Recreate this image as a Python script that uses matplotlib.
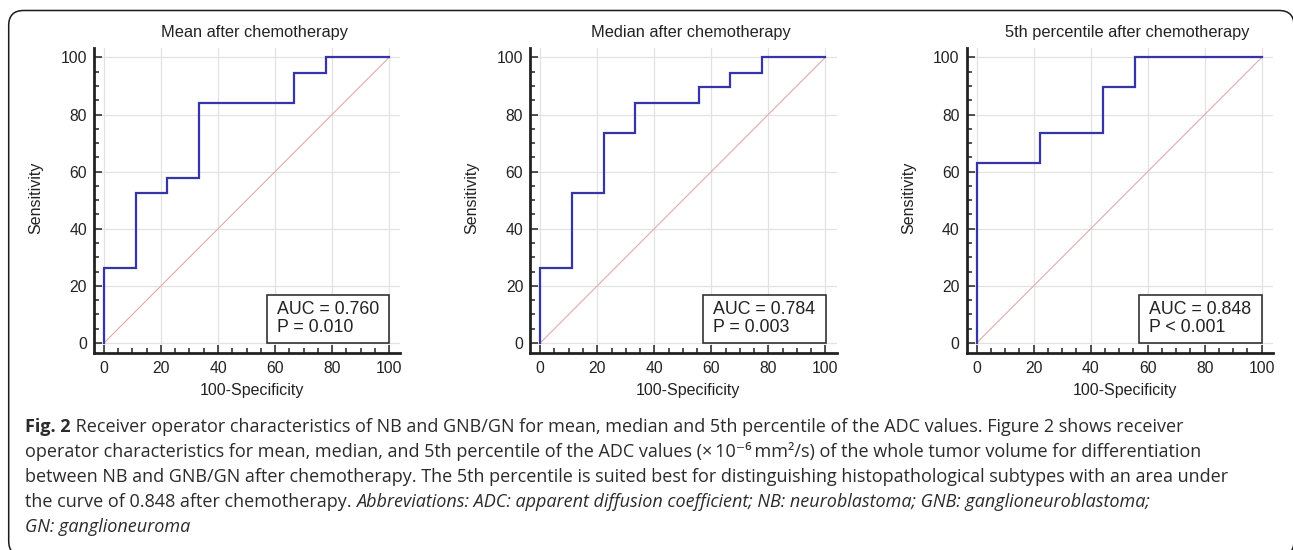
import matplotlib.pyplot as plt
import numpy as np
from matplotlib.patches import FancyBboxPatch, Rectangle
from matplotlib.ticker import MultipleLocator

# ROC points (100-Specificity, Sensitivity)
mean_fpr = [0, 0, 11.1, 11.1, 22.2, 22.2, 33.3, 33.3, 66.7, 66.7, 77.8, 77.8, 100]
mean_sens = [0, 26.3, 26.3, 52.6, 52.6, 57.9, 57.9, 84.2, 84.2, 94.7, 94.7, 100, 100]

median_fpr = [0, 0, 11.1, 11.1, 22.2, 22.2, 33.3, 33.3, 55.6, 55.6, 66.7, 66.7, 77.8, 77.8, 100]
median_sens = [0, 26.3, 26.3, 52.6, 52.6, 73.7, 73.7, 84.2, 84.2, 89.5, 89.5, 94.7, 94.7, 100, 100]

p5_fpr = [0, 0, 22.2, 22.2, 44.4, 44.4, 55.6, 55.6, 100]
p5_sens = [0, 63.2, 63.2, 73.7, 73.7, 89.5, 89.5, 100, 100]

titles = ["Mean after chemotherapy", "Median after chemotherapy", "5th percentile after chemotherapy"]
auc_labels = ["AUC = 0.760\nP = 0.010", "AUC = 0.784\nP = 0.003", "AUC = 0.848\nP < 0.001"]
ticks = [0, 20, 40, 60, 80, 100]

caption_lines = [
	"Receiver operator characteristics of NB and GNB/GN for mean, median and 5th percentile of the ADC values. Figure 2 shows receiver",
	"operator characteristics for mean, median, and 5th percentile of the ADC values (\u00d7\u200910\u207b\u2076\u2009mm\u00b2/s) of the whole tumor volume for differentiation",
	"between NB and GNB/GN after chemotherapy. The 5th percentile is suited best for distinguishing histopathological subtypes with an area under",
	"the curve of 0.848 after chemotherapy. ",
]
caption_italic = "Abbreviations: ADC: apparent diffusion coefficient; NB: neuroblastoma; GNB: ganglioneuroblastoma;"
caption_last = "GN: ganglioneuroma"

plt.rcParams['font.family'] = ['Liberation Sans', 'DejaVu Sans']

fig = plt.figure(figsize=(12.93, 5.5), dpi=100)

lefts = [0.0727, 0.4101, 0.7476]
curves = [(mean_fpr, mean_sens), (median_fpr, median_sens), (p5_fpr, p5_sens)]
ink = '#222222'

for i in range(3):
	ax = fig.add_axes([lefts[i], 0.3582, 0.2370, 0.5545])
	fpr, sens = curves[i]
	ax.plot([0, 100], [0, 100], color='#e3aaaa', lw=0.8, zorder=2)
	ax.plot(fpr, sens, color='#3535a8', lw=1.6, zorder=4, solid_joinstyle='miter')
	ax.set_xlim(-3.5, 104)
	ax.set_ylim(-3.5, 103.3)
	ax.set_xticks(ticks)
	ax.set_yticks(ticks)
	ax.xaxis.set_minor_locator(MultipleLocator(5))
	ax.yaxis.set_minor_locator(MultipleLocator(5))
	ax.grid(True, which='major', color='#e2e2e2', lw=0.9, zorder=0)
	ax.set_axisbelow(True)
	for s in ['top', 'right']:
		ax.spines[s].set_visible(False)
	for s in ['left', 'bottom']:
		ax.spines[s].set_linewidth(2)
		ax.spines[s].set_color(ink)
	ax.tick_params(which='major', direction='in', length=6, width=1.1, color=ink, labelsize=11.3, labelcolor=ink)
	ax.tick_params(axis='x', which='major', pad=6)
	ax.tick_params(axis='y', which='major', pad=5)
	ax.tick_params(which='minor', direction='in', length=3.5, width=1.1, color=ink)
	ax.set_xlabel("100-Specificity", fontsize=11.5, color=ink)
	ax.xaxis.set_label_coords(0.515, -0.10)
	ax.set_ylabel("Sensitivity", fontsize=11.5, color=ink)
	ax.yaxis.set_label_coords(-0.165, 0.51)
	ax.text(0.524, 1.05, titles[i], transform=ax.transAxes, ha='center', va='center', fontsize=11.8, color=ink)
	# AUC box
	ax.add_patch(Rectangle((0.5635, 0.032), 0.40, 0.158, transform=ax.transAxes, facecolor='white',
		edgecolor='#333333', lw=1.2, zorder=5))
	ax.text(0.596, 0.113, auc_labels[i], transform=ax.transAxes, ha='left', va='center', fontsize=12.8,
		color=ink, linespacing=1.05, zorder=6)

# outer rounded frame
frame = FancyBboxPatch((0.087, -0.06), 12.853, 5.455, boxstyle="round,pad=0,rounding_size=0.15",
	transform=fig.dpi_scale_trans, facecolor='none', edgecolor='#1a1a1a', lw=1.1)
fig.patches.append(frame)

# caption
cap_font = ['Open Sans', 'DejaVu Sans']
cap_size = 13.0
cap_color = '#2b2b2b'
x0 = 25 / 1293.0
baselines = [431.7, 456.9, 482.1, 507.3, 532.5]

t = fig.text(x0, 1 - baselines[0] / 550.0, "Fig. 2", family=cap_font, fontsize=cap_size, weight='bold',
	color=cap_color, va='baseline')
plt.annotate(" " + caption_lines[0], xy=(1, 0), xycoords=t, va='bottom', ha='left',
	family=cap_font, fontsize=cap_size, color=cap_color, annotation_clip=False)
for k in [1, 2]:
	fig.text(x0, 1 - baselines[k] / 550.0, caption_lines[k], family=cap_font, fontsize=cap_size,
		color=cap_color, va='baseline')
t4 = fig.text(x0, 1 - baselines[3] / 550.0, caption_lines[3], family=cap_font, fontsize=cap_size,
	color=cap_color, va='baseline')
plt.annotate(caption_italic, xy=(1, 0), xycoords=t4, va='bottom', ha='left', family=cap_font,
	fontsize=cap_size, style='italic', color=cap_color, annotation_clip=False)
fig.text(x0, 1 - baselines[4] / 550.0, caption_last, family=cap_font, fontsize=cap_size, style='italic',
	color=cap_color, va='baseline')

fig.savefig("out.png", dpi=100)
